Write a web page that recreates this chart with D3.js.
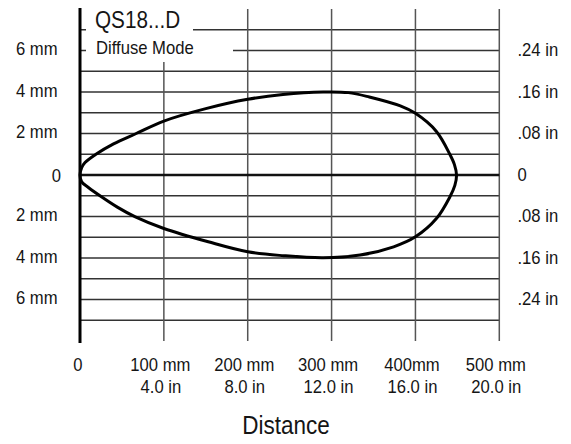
<!DOCTYPE html>
<html>
<head>
<meta charset="utf-8">
<script src="https://cdn.jsdelivr.net/npm/d3@7/dist/d3.min.js"></script>
<style>
  html, body { margin: 0; padding: 0; background: #fff; }
  svg { display: block; font-family: "Liberation Sans", Arial, sans-serif; }
</style>
</head>
<body>
<svg id="chart" width="571" height="444"></svg>
<script>
// ---- data ----
const title = "QS18...D";
const subtitle = "Diffuse Mode";
const xTitle = "Distance";
const xTicks = [0, 100, 200, 300, 400, 500];
const xLabelsMm = ["0", "100 mm", "200 mm", "300 mm", "400mm", "500 mm"];
const xLabelsIn = ["", "4.0 in", "8.0 in", "12.0 in", "16.0 in", "20.0 in"];
const yTicks = [6, 4, 2, 0, -2, -4, -6];
const yLabelsMm = ["6 mm", "4 mm", "2 mm", "0", "2 mm", "4 mm", "6 mm"];
const yLabelsIn = [".24 in", ".16 in", ".08 in", "0", ".08 in", ".16 in", ".24 in"];
const yGrid = [7, 6, 5, 4, 3, 2, 1, -1, -2, -3, -4, -5, -6, -7];
// beam pattern (distance mm, radius mm)
const upper = [[0,0],[2,0.35],[6,0.6],[19,1.0],[40,1.5],[67,2.0],[100,2.6],[150,3.2],[200,3.65],[242,3.88],[290,4.0],[320,3.97],[345,3.76],[382,3.33],[400,2.97],[425,2.1],[441,1.0],[446.5,0.5],[449,0]];
const lower = [[0,0],[2,-0.33],[10,-0.6],[26,-1.06],[45,-1.56],[66,-2.02],[100,-2.58],[153,-3.22],[200,-3.7],[243,-3.89],[290,-3.99],[334,-3.86],[374,-3.46],[400,-2.98],[425,-2.1],[441,-1.06],[447,-0.5],[449,0]];

// ---- scales ----
const svg = d3.select("#chart");
const x = d3.scaleLinear().domain([0, 500]).range([80, 499.3]);
const y = d3.scaleLinear().domain([-8, 8]).range([341, 9]);

function addText(parent, tx, ty, str, size, anchor) {
  return parent.append("text")
    .attr("transform", `translate(${tx},${ty}) scale(0.9,1)`)
    .attr("text-anchor", anchor || "start")
    .attr("font-size", size).attr("fill", "#151515")
    .text(str);
}

// horizontal grid
svg.append("g").selectAll("line").data(yGrid).join("line")
  .attr("x1", x(0)).attr("x2", x(500))
  .attr("y1", d => y(d)).attr("y2", d => y(d))
  .attr("stroke", "#333").attr("stroke-width", 1.6);

// vertical grid
svg.append("g").selectAll("line").data(xTicks.slice(1)).join("line")
  .attr("x1", d => x(d)).attr("x2", d => x(d))
  .attr("y1", y(8)).attr("y2", y(-8))
  .attr("stroke", "#555").attr("stroke-width", 1.5);

// white boxes behind title texts
svg.append("rect").attr("x", 86).attr("y", 2).attr("width", 107).attr("height", 34).attr("fill", "#fff");
svg.append("rect").attr("x", 86).attr("y", 36).attr("width", 147).attr("height", 26).attr("fill", "#fff");

// zero line
svg.append("line")
  .attr("x1", x(0)).attr("x2", x(500))
  .attr("y1", y(0)).attr("y2", y(0))
  .attr("stroke", "#111").attr("stroke-width", 2.6);

// left axis line
svg.append("line")
  .attr("x1", x(0)).attr("x2", x(0))
  .attr("y1", y(8) - 1).attr("y2", y(-8) + 2)
  .attr("stroke", "#000").attr("stroke-width", 3);

// beam curve
const loop = upper.concat(lower.slice(1, -1).reverse());
const line = d3.line().x(d => x(d[0])).y(d => y(d[1])).curve(d3.curveCatmullRomClosed.alpha(0.5));
svg.append("path").attr("d", line(loop))
  .attr("fill", "none").attr("stroke", "#000").attr("stroke-width", 3);

// titles
addText(svg, 95, 28, title, 23);
addText(svg, 96, 53.5, subtitle, 18.5);

// left labels
const gl = svg.append("g");
yTicks.forEach((d, i) => addText(gl, d === 0 ? 61 : 57.5, y(d) + (d === 0 ? 6.5 : 4.5), yLabelsMm[i], 18.5, "end"));

// right labels
const gr = svg.append("g");
yTicks.forEach((d, i) => addText(gr, 517.5, y(d) + 5.5, yLabelsIn[i], 18.5, "start"));

// bottom labels
const gb = svg.append("g");
xTicks.forEach((d, i) => {
  addText(gb, x(d) - (d === 0 ? 2 : 3.5), 371, xLabelsMm[i], 18.5, "middle");
  if (xLabelsIn[i]) addText(gb, x(d) - 3, 393, xLabelsIn[i], 18.5, "middle");
});

addText(svg, 286, 434, xTitle, 25, "middle");
</script>
</body>
</html>
